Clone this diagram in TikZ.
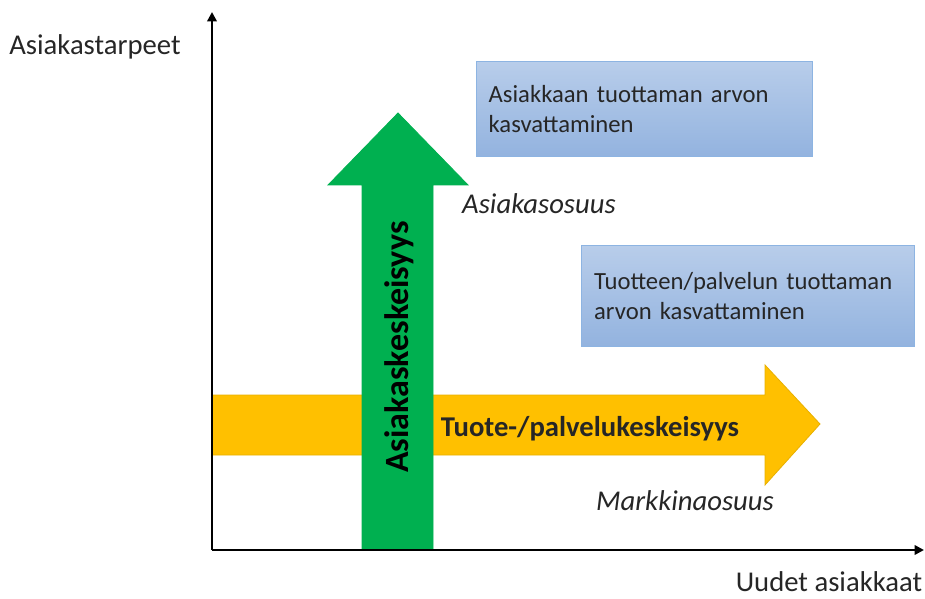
\documentclass[tikz,border=0pt]{standalone}
\usepackage{fontspec}
\setmainfont{Carlito}
\usetikzlibrary{arrows.meta}
\definecolor{agreen}{HTML}{00B050}
\definecolor{ayellow}{HTML}{FFC000}
\definecolor{ayellowd}{HTML}{E8B000}
\definecolor{btop}{HTML}{B8CDEA}
\definecolor{bbot}{HTML}{93B3DF}
\definecolor{bline}{HTML}{8DB4E2}
\begin{document}
\begin{tikzpicture}[x=0.75pt,y=-0.75pt,
  font=\fontsize{21.5}{26}\selectfont,
  box/.style={draw=bline, line width=1pt, top color=btop, bottom color=bbot,
    anchor=north west, align=left, inner xsep=9pt, inner ysep=0pt, text=black!85,
    font=\fontsize{18.5}{22.5}\selectfont},
  lab/.style={inner sep=0pt, text=black!85, anchor=base},
  axis/.style={line width=2pt, -{Triangle[length=7pt,width=7pt]}}]
\useasboundingbox (0,0) rectangle (925,599);
\coordinate (O) at (212,550);
\coordinate (ytop) at (212,12);
\coordinate (xend) at (924,550);
% yellow arrow
\filldraw[fill=ayellow, draw=ayellowd, line width=0.6pt]
  (212,395) -- (765,395) -- (765,365) -- (820,424) -- (765,485) -- (765,455) -- (212,455) -- cycle;
% green arrow
\filldraw[fill=agreen, draw=agreen, line width=0.6pt]
  (362,550) -- (362,185) -- (328,185) -- (398,113) -- (468,185) -- (433,185) -- (433,550) -- cycle;
% axes
\draw[axis] (O) -- (ytop);
\draw[axis] (O) -- (xend);
% labels
\node[lab] (ya) at (95,55) {Asiakastarpeet};
\node[lab] (xa) at (829,591) {Uudet asiakkaat};
\node[lab] (as) at (539,214) {\itshape Asiakasosuus};
\node[lab] (mo) at (685,510) {\itshape Markkinaosuus};
\node[lab, font=\fontsize{21.5}{26}\selectfont\bfseries] (tp) at (590,436) {Tuote-/palvelukeskeisyys};
\node[inner sep=0pt, rotate=90, text=black, font=\fontsize{25.5}{30}\selectfont\bfseries] (ak) at (399,347) {Asiakaskeskeisyys};
% boxes
\node[box, minimum width=252pt, minimum height=71pt, text width=234pt] (b1) at (476,61)
  {Asiakkaan tuottaman arvon\\kasvattaminen};
\node[box, minimum width=249.75pt, minimum height=75.5pt, text width=231pt] (b2) at (581,245)
  {Tuotteen/palvelun tuottaman\\arvon kasvattaminen};
\end{tikzpicture}
\end{document}
